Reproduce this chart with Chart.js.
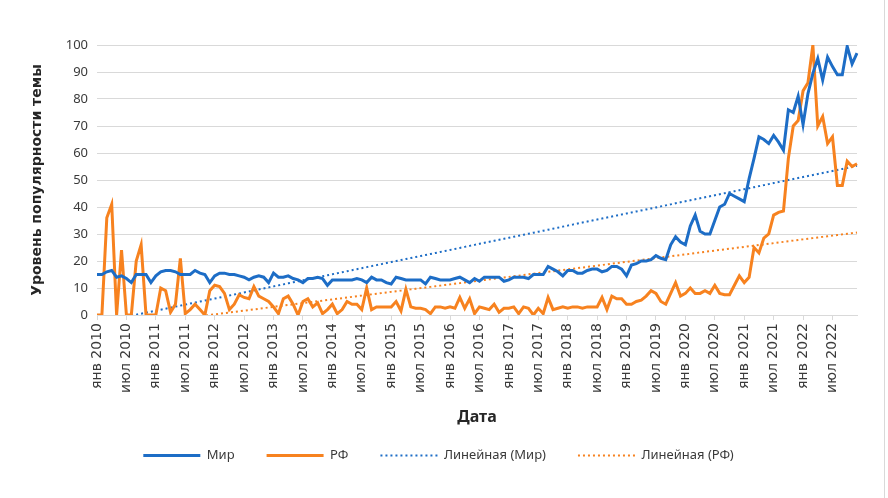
<!DOCTYPE html>
<html>
<head>
<meta charset="utf-8">
<script src="https://cdn.jsdelivr.net/npm/chart.js@4"></script>
<style>
  body { margin: 0; background: #fff; }
  #wrap { position: relative; width: 888px; height: 498px; }
  #frame { position: absolute; left: 884px; top: 0; width: 1px; height: 498px; background: #d9d9d9; }
</style>
</head>
<body>
<div id="wrap">
  <canvas id="trendChart"></canvas>
  <div id="frame"></div>
</div>
<script>
// months and years for the category axis
var monthNames = ['янв', 'фев', 'мар', 'апр', 'май', 'июн', 'июл', 'авг', 'сен', 'окт', 'ноя', 'дек'];
var years = [2010, 2011, 2012, 2013, 2014, 2015, 2016, 2017, 2018, 2019, 2020, 2021, 2022];

// monthly popularity, world
var mir = [
  15, 15, 16, 16.5, 14, 14.5, 13.5, 12, 15, 15, 15, 12,
  14.5, 16, 16.5, 16.5, 16, 15, 15, 15, 16.5, 15.5, 15, 12,
  14.5, 15.5, 15.5, 15, 15, 14.5, 14, 13, 14, 14.5, 14, 12,
  15.5, 14, 14, 14.5, 13.5, 13, 12, 13.5, 13.5, 14, 13.5, 11,
  13, 13, 13, 13, 13, 13.5, 13, 12, 14, 13, 13, 12,
  11.5, 14, 13.5, 13, 13, 13, 13, 11.5, 14, 13.5, 13, 13,
  13, 13.5, 14, 13, 12, 13.5, 12.5, 14, 14, 14, 14, 12.5,
  13, 14, 14, 14, 13.5, 15, 15, 15, 18, 17, 16, 14.5,
  16.5, 16.5, 15.5, 15.5, 16.5, 17, 17, 16, 16.5, 18, 18, 17,
  14.5, 18.5, 19, 20, 20, 20.5, 22, 21, 20.5, 26, 29, 27,
  26, 33, 37, 31, 30, 30, 35, 40, 41, 45, 44, 43,
  42, 50.5, 58, 66, 65, 63.5, 66.5, 64, 61, 76, 75, 81,
  70.5, 82, 89.5, 95, 87, 95.5, 92, 89, 89, 99.5, 93, 97
];

// monthly popularity, Russia
var rf = [
  0, 0, 36, 41, 0, 24, 0, 0, 20, 26, 0, 0,
  0, 10, 9, 1, 4, 21, 0.5, 2, 4, 2, 0, 9,
  11, 10.5, 8, 2, 4, 7.5, 6.5, 6, 10.5, 7, 6, 5,
  3, 0.5, 6, 7, 4, 0, 5, 6, 3, 4.5, 0.5, 2,
  4, 0.5, 2, 5, 4, 4, 2, 10, 2, 3, 3, 3,
  3, 5, 1.5, 9.5, 3, 2.5, 2.5, 2, 0.5, 3, 3, 2.5,
  3, 2.5, 6.5, 2.5, 6, 0.5, 3, 2.5, 2, 4, 1, 2.5,
  2.5, 3, 0.5, 3, 2.5, 0, 2.5, 0.5, 6.5, 2, 2.5, 3,
  2.5, 3, 3, 2.5, 3, 3, 3, 6.5, 2, 7, 6, 6,
  4, 4, 5, 5.5, 7, 9, 8, 5, 4, 8, 12, 7,
  8, 10, 8, 8, 9, 8, 11, 8, 7.5, 7.5, 11, 14.5,
  12, 14, 25, 23, 28.5, 30, 37, 38, 38.5, 58, 70, 72,
  83, 86, 100, 70, 73.5, 63.5, 66, 48, 48, 57, 55, 56
];

var yTicks = [0, 10, 20, 30, 40, 50, 60, 70, 80, 90, 100];

var labels = [];
years.forEach(function (y) {
  monthNames.forEach(function (m) { labels.push(m + ' ' + y); });
});

// least squares line, like the Excel "linear" trendline
function linearTrend(values) {
  var n = values.length, sx = 0, sy = 0, sxy = 0, sxx = 0;
  for (var i = 0; i < n; i++) {
    sx += i; sy += values[i]; sxy += i * values[i]; sxx += i * i;
  }
  var b = (n * sxy - sx * sy) / (n * sxx - sx * sx);
  var a = (sy - b * sx) / n;
  return values.map(function (v, i) { return a + b * i; });
}

var blue = '#1d6dc6';
var orange = '#f7821f';
var grid = '#d9d9d9';

new Chart(document.getElementById('trendChart'), {
  type: 'line',
  data: {
    labels: labels,
    datasets: [
      { label: 'Мир', data: mir, borderColor: blue, backgroundColor: blue, borderWidth: 3, pointRadius: 0, tension: 0 },
      { label: 'РФ', data: rf, borderColor: orange, backgroundColor: orange, borderWidth: 3, pointRadius: 0, tension: 0 },
      { label: 'Линейная (Мир)', data: linearTrend(mir), borderColor: blue, backgroundColor: blue, borderWidth: 2, borderDash: [2, 3], pointRadius: 0 },
      { label: 'Линейная (РФ)', data: linearTrend(rf), borderColor: orange, backgroundColor: orange, borderWidth: 2, borderDash: [2, 3], pointRadius: 0 }
    ]
  },
  options: {
    responsive: true,
    maintainAspectRatio: false,
    animation: false,
    layout: { padding: { left: 20, right: 31, top: 45, bottom: 26 } },
    plugins: {
      tooltip: { enabled: false },
      legend: {
        position: 'bottom',
        labels: {
          usePointStyle: true,
          pointStyle: 'line',
          pointStyleWidth: 57,
          padding: 32,
          color: '#3a3a3a',
          font: { family: 'Noto Sans', size: 13 },
          generateLabels: function (chart) {
            var items = Chart.defaults.plugins.legend.labels.generateLabels(chart);
            items.forEach(function (it) {
              var ds = chart.data.datasets[it.datasetIndex];
              it.strokeStyle = ds.borderColor;
              it.lineWidth = ds.borderWidth;
              it.lineDash = ds.borderDash || [];
            });
            return items;
          }
        }
      }
    },
    scales: {
      x: {
        grid: {
          drawOnChartArea: false,
          tickLength: 5,
          color: function (ctx) { return ctx.index % 6 === 0 ? grid : 'rgba(0,0,0,0)'; }
        },
        border: { color: grid },
        ticks: {
          autoSkip: false,
          minRotation: 90,
          maxRotation: 90,
          padding: 3,
          color: '#3a3a3a',
          font: { family: 'DejaVu Sans', size: 14 },
          callback: function (val, idx) { return idx % 6 === 0 ? this.getLabelForValue(val) : ''; }
        },
        title: {
          display: true,
          text: 'Дата',
          color: '#262626',
          font: { family: 'Noto Sans', size: 16, weight: 'bold' },
          padding: { top: 0, bottom: -10 }
        },
        afterFit: function (scale) { scale.height = 102; }
      },
      y: {
        min: 0,
        max: 100,
        afterBuildTicks: function (scale) {
          scale.ticks = yTicks.map(function (v) { return { value: v }; });
        },
        grid: { color: grid, drawTicks: false },
        border: { display: false },
        ticks: {
          padding: 9,
          color: '#3a3a3a',
          font: { family: 'Noto Sans', size: 13 }
        },
        title: {
          display: true,
          text: 'Уровень популярности темы',
          color: '#262626',
          font: { family: 'DejaVu Sans', size: 14, weight: 'bold' },
          padding: { top: 9, bottom: 0 }
        },
        afterFit: function (scale) { scale.width = 77; }
      }
    }
  }
});
</script>
</body>
</html>
